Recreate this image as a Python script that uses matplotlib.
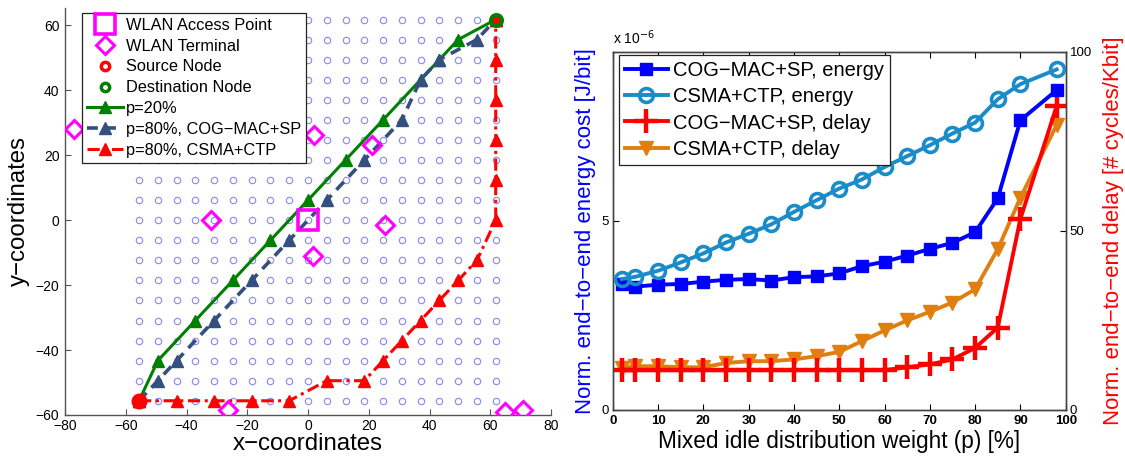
import matplotlib
matplotlib.use("Agg")
import matplotlib.pyplot as plt
from matplotlib.lines import Line2D
import numpy as np

plt.rcParams['font.family'] = ['Liberation Sans', 'DejaVu Sans']

# ---------------- Left panel data ----------------
grid_coords = [-55.62, -49.44, -43.26, -37.08, -30.90, -24.72, -18.54, -12.36, -6.18, 0.0,
               6.18, 12.36, 18.54, 24.72, 30.90, 37.08, 43.26, 49.44, 55.62, 61.80]
ap_x = [0.0]
ap_y = [0.0]
term_x = [-77.2, 2.0, 21.2, -32.0, 25.3, 1.5, -26.2, 65.0, 70.8]
term_y = [28.2, 26.2, 23.1, 0.0, -1.5, -10.9, -58.4, -59.1, -58.4]
src_ix, src_iy = [0], [0]
dst_ix, dst_iy = [19], [19]
p20_ix = [0, 1, 3, 5, 7, 9, 11, 13, 15, 16, 17, 19]
p20_iy = [0, 2, 4, 6, 8, 10, 12, 14, 16, 17, 18, 19]
cog_ix = [0, 1, 2, 4, 6, 8, 10, 12, 14, 15, 16, 18, 19]
cog_iy = [0, 1, 2, 4, 6, 8, 10, 12, 14, 16, 17, 18, 19]
csma_ix = [0, 2, 4, 6, 8, 10, 12, 13, 14, 15, 16, 17, 18, 19, 19, 19, 19, 19, 19]
csma_iy = [0, 0, 0, 0, 0, 1, 1, 2, 3, 4, 5, 6, 7, 9, 11, 13, 15, 17, 19]

# ---------------- Right panel data ----------------
p_vals = [2, 5, 10, 15, 20, 25, 30, 35, 40, 45, 50, 55, 60, 65, 70, 75, 80, 85, 90, 98]
energy_cog = [3.33, 3.26, 3.31, 3.33, 3.39, 3.44, 3.46, 3.42, 3.51, 3.53,
              3.61, 3.80, 3.92, 4.08, 4.26, 4.42, 4.70, 5.60, 7.67, 8.47]   # x 1e-6 J/bit
energy_csma = [3.46, 3.52, 3.68, 3.90, 4.14, 4.43, 4.66, 4.91, 5.24, 5.55,
               5.86, 6.10, 6.43, 6.72, 7.01, 7.32, 7.61, 8.23, 8.63, 9.02]  # x 1e-6 J/bit
delay_cog = [11.0, 11.0, 11.0, 11.0, 11.0, 11.0, 11.0, 11.0, 11.0, 11.0,
             11.0, 11.0, 11.0, 11.8, 12.6, 14.0, 17.2, 22.9, 53.3, 84.8]
delay_csma = [11.6, 12.1, 12.1, 11.8, 11.8, 13.0, 13.5, 13.5, 14.0, 14.9,
              16.1, 19.1, 22.1, 24.9, 27.3, 29.9, 33.6, 44.8, 59.2, 79.5]

W, H = 1125, 457
fig = plt.figure(figsize=(W / 100, H / 100), dpi=100)

# ======================= LEFT PANEL =======================
axL = fig.add_axes([65 / W, 1 - 415 / H, 486 / W, (415 - 7.5) / H])
g = np.array(grid_coords)
GX, GY = np.meshgrid(g, g)
axL.plot(GX.ravel(), GY.ravel(), 'o', ls='none', ms=4.6, mfc='none', mec='#8787f5', mew=0.8, zorder=1)

def pts(ix, iy):
    return [grid_coords[i] for i in ix], [grid_coords[j] for j in iy]

gx, gy = pts(p20_ix, p20_iy)
axL.plot(gx, gy, '-', color='#008000', lw=2.2, marker='^', ms=8.5, mfc='#008000', mec='#008000', zorder=3)
bx, by = pts(cog_ix, cog_iy)
axL.plot(bx, by, '--', color='#34507f', lw=2.6, dashes=(3, 2), marker='^', ms=8.5,
         mfc='#34507f', mec='#34507f', zorder=3)
rx, ry = pts(csma_ix, csma_iy)
axL.plot(rx, ry, '-.', color='#ff0000', lw=2.2, dashes=(4, 1.5, 1, 1.5), marker='^', ms=8.5,
         mfc='#ff0000', mec='#ff0000', zorder=3)

axL.plot(term_x, term_y, 'D', ls='none', ms=9, mfc='none', mec='#ff00ff', mew=2.2, zorder=4)
axL.plot(ap_x, ap_y, 's', ls='none', ms=14, mfc='none', mec='#ff00ff', mew=2.6, zorder=4)
sx, sy = pts(src_ix, src_iy)
axL.plot(sx, sy, 'o', ls='none', ms=9, mfc='#ff0000', mec='#ff0000', mew=2.5, zorder=5)
dx, dy = pts(dst_ix, dst_iy)
axL.plot(dx, dy, 'o', ls='none', ms=8, mfc='#ff0000', mec='#008000', mew=2.8, zorder=5)

axL.set_xlim(-80, 80)
axL.set_ylim(-60, 65.5)
axL.set_xticks([-80, -60, -40, -20, 0, 20, 40, 60, 80])
axL.set_yticks([-60, -40, -20, 0, 20, 40, 60])
axL.set_xticklabels(['\u221280', '\u221260', '\u221240', '\u221220', '0', '20', '40', '60', '80'])
axL.set_yticklabels(['\u221260', '\u221240', '\u221220', '0', '20', '40', '60'])
axL.spines['top'].set_visible(False)
axL.spines['right'].set_visible(False)
for s in ['left', 'bottom']:
    axL.spines[s].set_color('#555555')
    axL.spines[s].set_linewidth(1.0)
axL.tick_params(direction='in', labelsize=10, length=4, color='#555555')
axL.tick_params(axis='x', pad=3)
axL.tick_params(axis='y', pad=4)
axL.set_xlabel('x\u2212coordinates', fontsize=17.3, labelpad=0)
axL.set_ylabel('y\u2212coordinates', fontsize=17.3, labelpad=4)

hL = [
    Line2D([], [], ls='none', marker='s', ms=14, mfc='none', mec='#ff00ff', mew=2.6),
    Line2D([], [], ls='none', marker='D', ms=9, mfc='none', mec='#ff00ff', mew=2.2),
    Line2D([], [], ls='none', marker='o', ms=6, mfc='none', mec='#ff0000', mew=2.5),
    Line2D([], [], ls='none', marker='o', ms=6, mfc='none', mec='#008000', mew=2.5),
    Line2D([], [], ls='-', color='#008000', lw=2.2, marker='^', ms=8.5),
    Line2D([], [], ls='--', color='#34507f', lw=2.6, dashes=(3, 2), marker='^', ms=8.5),
    Line2D([], [], ls='-.', color='#ff0000', lw=2.2, dashes=(4, 1.5, 1, 1.5), marker='^', ms=8.5),
]
labL = ['WLAN Access Point', 'WLAN Terminal', 'Source Node', 'Destination Node',
        'p=20%', 'p=80%, COG\u2212MAC+SP', 'p=80%, CSMA+CTP']
legL = axL.legend(hL, labL, loc='upper left', bbox_to_anchor=((82.3 - 65) / 486, (415 - 12.7) / 407.5),
                  borderaxespad=0, fontsize=11.8, numpoints=1, handlelength=2.2, handletextpad=0.15,
                  labelspacing=0.36, borderpad=0.3, fancybox=False, framealpha=1, edgecolor='#222222')
legL.get_frame().set_linewidth(0.9)
legL.set_zorder(10)

# ======================= RIGHT PANEL =======================
axR = fig.add_axes([612.7 / W, 1 - 409.5 / H, 453 / W, (409.5 - 51.7) / H])
axR2 = axR.twinx()

c_blue = '#0000ff'
c_lblue = '#1a8cc8'
c_red = '#ff0000'
c_orange = '#e07f10'

l1, = axR.plot(p_vals, energy_cog, '-', color=c_blue, lw=2.8, marker='s', ms=8, mfc=c_blue, mec=c_blue, zorder=3)
l2, = axR.plot(p_vals, energy_csma, '-', color=c_lblue, lw=2.8, marker='o', ms=10, mfc='none', mec=c_lblue,
               mew=2.6, zorder=3)
l3, = axR2.plot(p_vals, delay_cog, '-', color=c_red, lw=2.8, marker='+', ms=17, mew=3.2, zorder=3)
l4, = axR2.plot(p_vals, delay_csma, '-', color=c_orange, lw=2.8, marker='v', ms=10, mfc=c_orange, mec=c_orange,
                zorder=2)

axR.set_xlim(0, 100)
axR.set_ylim(0, 9.49)
axR2.set_ylim(0, 100)
axR.set_xticks([0, 10, 20, 30, 40, 50, 60, 70, 80, 90, 100])
axR.set_yticks([0, 5])
axR2.set_yticks([0, 50, 100])
axR.tick_params(axis='x', direction='in', labelsize=9.5, length=4, top=True, pad=4)
for lab in axR.get_xticklabels():
    lab.set_fontweight('bold')
axR.tick_params(axis='y', direction='in', labelsize=9.5, length=4, pad=3)
axR2.tick_params(axis='y', direction='in', labelsize=9.5, length=4, pad=3)
for a in (axR, axR2):
    for s in a.spines.values():
        s.set_color('#444444')
        s.set_linewidth(1.0)

axR.set_xlabel('Mixed idle distribution weight (p) [%]', fontsize=16.3, labelpad=2)
axR.set_ylabel('Norm. end\u2212to\u2212end energy cost [J/bit]', fontsize=16, color=c_blue, labelpad=4)
axR2.set_ylabel('Norm. end\u2212to\u2212end delay [# cycles/Kbit]', fontsize=16, color=c_red, labelpad=8)

fig.text(613 / W, 1 - 44 / H, 'x 10$^{\u22126}$', fontsize=10, ha='left', va='baseline')

legR = axR.legend([l1, l2, l3, l4],
                  ['COG\u2212MAC+SP, energy', 'CSMA+CTP, energy', 'COG\u2212MAC+SP, delay', 'CSMA+CTP, delay'],
                  loc='upper left', bbox_to_anchor=((619.3 - 612.7) / 453, (409.5 - 55) / 357.8),
                  borderaxespad=0, fontsize=14.5, numpoints=1, handlelength=2.1, handletextpad=0.25,
                  labelspacing=0.36, borderpad=0.3, fancybox=False, framealpha=1, edgecolor='#222222')
legR.get_frame().set_linewidth(0.9)
axR.set_zorder(axR2.get_zorder() + 1)
axR.patch.set_visible(False)

fig.savefig('out.png', dpi=100)
